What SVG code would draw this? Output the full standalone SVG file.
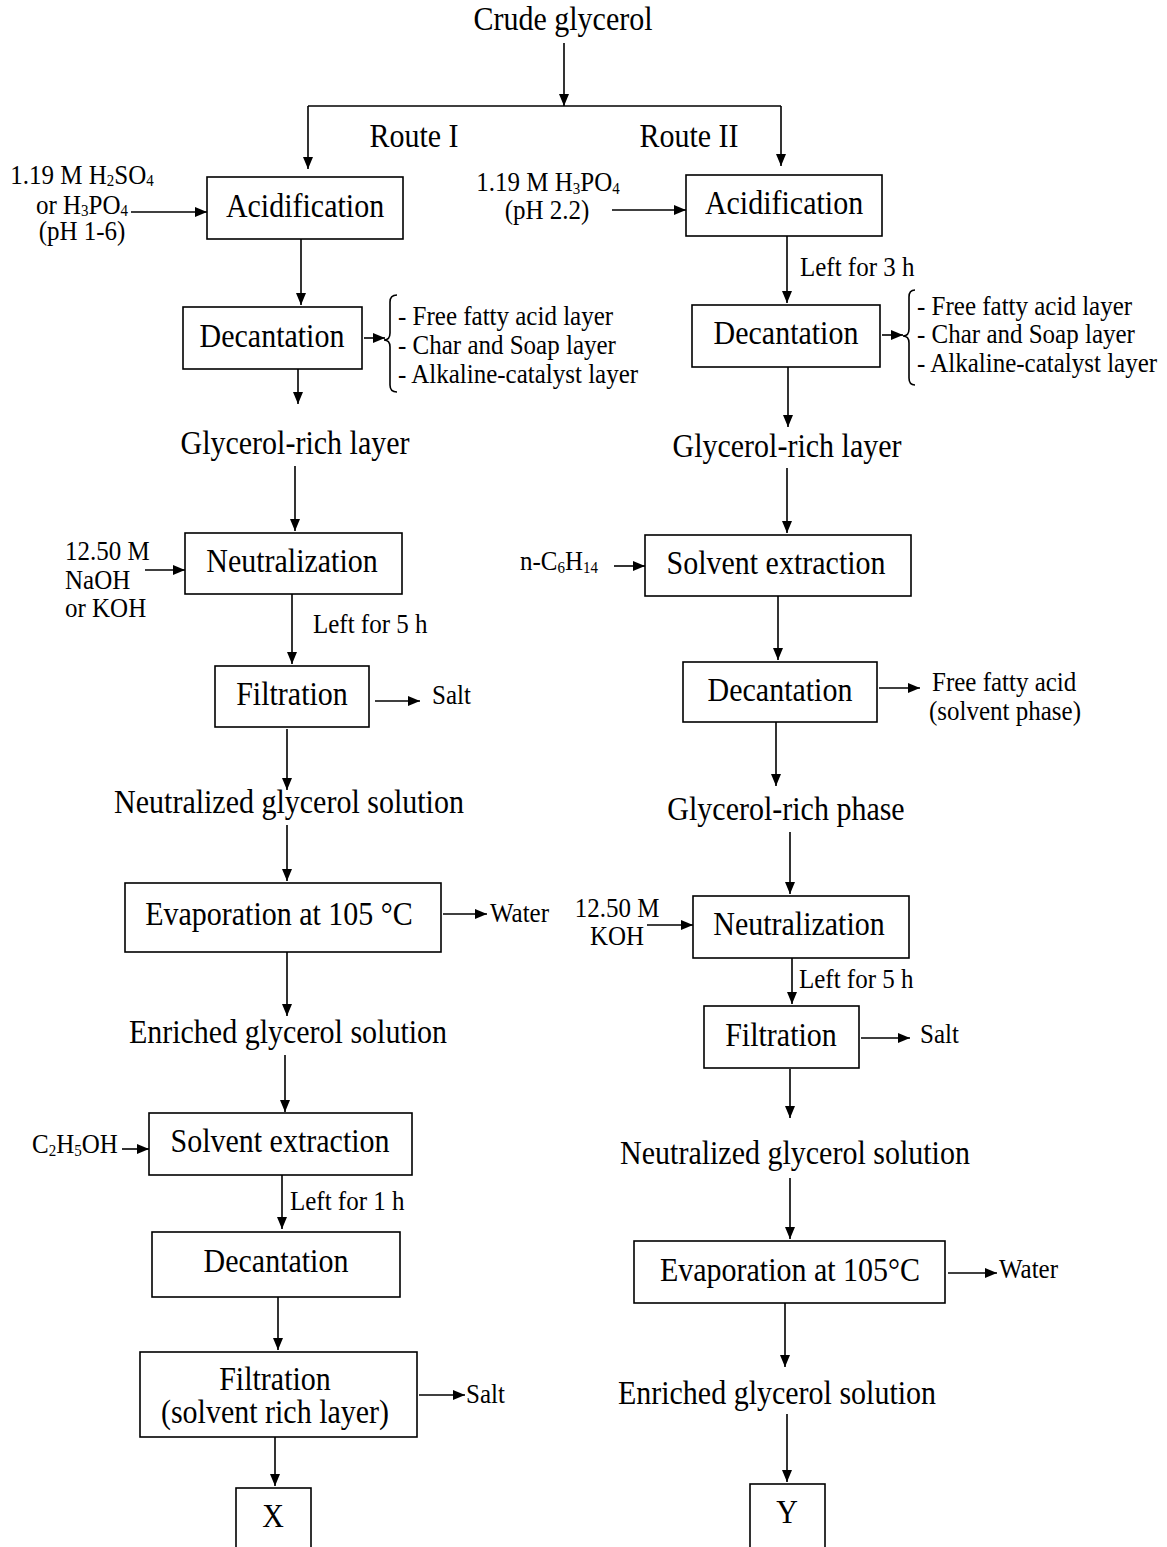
<svg xmlns="http://www.w3.org/2000/svg" width="1167" height="1547" viewBox="0 0 1167 1547">
  <style>
    text { font-family: "Liberation Serif", "Times New Roman", serif; fill: #000; }
    .big { font-size: 30px; }
    .small { font-size: 25px; }
    .mid { text-anchor: middle; }
    .box { fill: #fff; stroke: #000; stroke-width: 1.6; }
    .line { fill: none; stroke: #000; stroke-width: 1.6; }
    .sub { font-size: 15px; }
  </style>
  <defs>
    <marker id="arrow" viewBox="0 0 12 10" refX="12" refY="5" markerWidth="12" markerHeight="10" markerUnits="userSpaceOnUse" orient="auto">
      <path d="M0,0 L12,5 L0,10 z" fill="#000"/>
    </marker>
  </defs>
  <rect width="1167" height="1547" fill="#fff"/>

  <!-- connectors -->
  <g id="connectors" class="line">
    <path d="M564,43 V106" marker-end="url(#arrow)"/>
    <path d="M308,106 H781"/>
    <path d="M308,106 V169" marker-end="url(#arrow)"/>
    <path d="M781,106 V166" marker-end="url(#arrow)"/>
    <path d="M131,212 H207" marker-end="url(#arrow)"/>
    <path d="M612,210 H686" marker-end="url(#arrow)"/>
    <path d="M301,239 V305" marker-end="url(#arrow)"/>
    <path d="M787,236 V303" marker-end="url(#arrow)"/>
    <path d="M364,338 H385" marker-end="url(#arrow)"/>
    <path d="M882,335 H903" marker-end="url(#arrow)"/>
    <path d="M298,369 V404" marker-end="url(#arrow)"/>
    <path d="M788,367 V427" marker-end="url(#arrow)"/>
    <path d="M295,466 V531" marker-end="url(#arrow)"/>
    <path d="M787,468 V533" marker-end="url(#arrow)"/>
    <path d="M145,570 H185" marker-end="url(#arrow)"/>
    <path d="M614,566 H645" marker-end="url(#arrow)"/>
    <path d="M292,594 V664" marker-end="url(#arrow)"/>
    <path d="M778,596 V660" marker-end="url(#arrow)"/>
    <path d="M375,701 H420" marker-end="url(#arrow)"/>
    <path d="M879,688 H920" marker-end="url(#arrow)"/>
    <path d="M287,729 V790" marker-end="url(#arrow)"/>
    <path d="M776,722 V786" marker-end="url(#arrow)"/>
    <path d="M287,825 V881" marker-end="url(#arrow)"/>
    <path d="M790,832 V894" marker-end="url(#arrow)"/>
    <path d="M443,914 H487" marker-end="url(#arrow)"/>
    <path d="M647,925 H693" marker-end="url(#arrow)"/>
    <path d="M287,952 V1016" marker-end="url(#arrow)"/>
    <path d="M792,958 V1004" marker-end="url(#arrow)"/>
    <path d="M285,1055 V1112" marker-end="url(#arrow)"/>
    <path d="M861,1038 H910" marker-end="url(#arrow)"/>
    <path d="M122,1149 H149" marker-end="url(#arrow)"/>
    <path d="M790,1069 V1118" marker-end="url(#arrow)"/>
    <path d="M282,1175 V1229" marker-end="url(#arrow)"/>
    <path d="M790,1178 V1239" marker-end="url(#arrow)"/>
    <path d="M948,1273 H997" marker-end="url(#arrow)"/>
    <path d="M278,1297 V1350" marker-end="url(#arrow)"/>
    <path d="M785,1303 V1367" marker-end="url(#arrow)"/>
    <path d="M419,1395 H465" marker-end="url(#arrow)"/>
    <path d="M787,1414 V1482" marker-end="url(#arrow)"/>
    <path d="M275,1437 V1486" marker-end="url(#arrow)"/>
    <!-- braces -->
    <path d="M397,295 Q390,295 390,302 L390,333 Q390,340 384,340 Q390,340 390,347 L390,385 Q390,392 397,392"/>
    <path d="M915,290 Q909,290 909,297 L909,329 Q909,336 903,336 Q909,336 909,343 L909,378 Q909,385 915,385"/>
  </g>

  <!-- header -->
  <g id="crude-glycerol"><text class="big mid" transform="matrix(1 0 0 1.12 563 30)">Crude glycerol</text></g>
  <g id="route-labels">
    <text class="big mid" transform="matrix(1 0 0 1.12 414 147)">Route I</text>
    <text class="big mid" transform="matrix(1 0 0 1.12 689 147)">Route II</text>
  </g>

  <!-- Route I -->
  <g id="acid-feed-1">
    <text class="small mid" transform="matrix(1 0 0 1.05 82 184)">1.19 M H<tspan class="sub" dy="2">2</tspan><tspan dy="-2">SO</tspan><tspan class="sub" dy="2">4</tspan></text>
    <text class="small mid" transform="matrix(1 0 0 1.05 82 214)">or H<tspan class="sub" dy="2">3</tspan><tspan dy="-2">PO</tspan><tspan class="sub" dy="2">4</tspan></text>
    <text class="small mid" transform="matrix(1 0 0 1.05 82 240)">(pH 1-6)</text>
  </g>
  <g id="acidification-1">
    <rect class="box" x="207" y="177" width="196" height="62"/>
    <text class="big mid" transform="matrix(1 0 0 1.12 305 217)">Acidification</text>
  </g>
  <g id="decantation-1">
    <rect class="box" x="183" y="307" width="179" height="62"/>
    <text class="big mid" transform="matrix(1 0 0 1.12 272 347)">Decantation</text>
  </g>
  <g id="layers-1">
    <text class="small" transform="matrix(1 0 0 1.12 398 325)">- Free fatty acid layer</text>
    <text class="small" transform="matrix(1 0 0 1.12 398 354)">- Char and Soap layer</text>
    <text class="small" transform="matrix(1 0 0 1.12 398 383)">- Alkaline-catalyst layer</text>
  </g>
  <g id="glycerol-rich-1"><text class="big mid" transform="matrix(1 0 0 1.12 295 454)">Glycerol-rich layer</text></g>
  <g id="base-feed-1">
    <text class="small" transform="matrix(1 0 0 1.12 65 560)">12.50 M</text>
    <text class="small" transform="matrix(1 0 0 1.12 65 589)">NaOH</text>
    <text class="small" transform="matrix(1 0 0 1.12 65 617)">or KOH</text>
  </g>
  <g id="neutralization-1">
    <rect class="box" x="185" y="533" width="217" height="61"/>
    <text class="big mid" transform="matrix(1 0 0 1.12 292 572)">Neutralization</text>
  </g>
  <g id="wait-5h-1"><text class="small" transform="matrix(1 0 0 1.12 313 633)">Left for 5 h</text></g>
  <g id="filtration-1">
    <rect class="box" x="215" y="666" width="154" height="61"/>
    <text class="big mid" transform="matrix(1 0 0 1.12 292 705)">Filtration</text>
  </g>
  <g id="salt-1"><text class="small" transform="matrix(1 0 0 1.12 432 704)">Salt</text></g>
  <g id="neutralized-1"><text class="big mid" transform="matrix(1 0 0 1.12 289 813)">Neutralized glycerol solution</text></g>
  <g id="evaporation-1">
    <rect class="box" x="125" y="883" width="316" height="69"/>
    <text class="big mid" transform="matrix(1 0 0 1.12 279 925)">Evaporation at 105 °C</text>
  </g>
  <g id="water-1"><text class="small" transform="matrix(1 0 0 1.12 490 922)">Water</text></g>
  <g id="enriched-1"><text class="big mid" transform="matrix(1 0 0 1.12 288 1043)">Enriched glycerol solution</text></g>
  <g id="ethanol-feed"><text class="small" transform="matrix(1 0 0 1.12 32 1153)">C<tspan class="sub" dy="3">2</tspan><tspan dy="-3">H</tspan><tspan class="sub" dy="3">5</tspan><tspan dy="-3">OH</tspan></text></g>
  <g id="solvent-extraction-1">
    <rect class="box" x="149" y="1113" width="263" height="62"/>
    <text class="big mid" transform="matrix(1 0 0 1.12 280 1152)">Solvent extraction</text>
  </g>
  <g id="wait-1h"><text class="small" transform="matrix(1 0 0 1.12 290 1210)">Left for 1 h</text></g>
  <g id="decantation-3">
    <rect class="box" x="152" y="1232" width="248" height="65"/>
    <text class="big mid" transform="matrix(1 0 0 1.12 276 1272)">Decantation</text>
  </g>
  <g id="filtration-3">
    <rect class="box" x="140" y="1352" width="277" height="85"/>
    <text class="big mid" transform="matrix(1 0 0 1.12 275 1390)">Filtration</text>
    <text class="big mid" transform="matrix(1 0 0 1.12 275 1423)">(solvent rich layer)</text>
  </g>
  <g id="salt-3"><text class="small" transform="matrix(1 0 0 1.12 466 1403)">Salt</text></g>
  <g id="product-x">
    <rect class="box" x="236" y="1488" width="75" height="70"/>
    <text class="big mid" transform="matrix(1 0 0 1.12 273 1527)">X</text>
  </g>

  <!-- Route II -->
  <g id="acid-feed-2">
    <text class="small mid" transform="matrix(1 0 0 1.12 548 191)">1.19 M H<tspan class="sub" dy="3">3</tspan><tspan dy="-3">PO</tspan><tspan class="sub" dy="3">4</tspan></text>
    <text class="small mid" transform="matrix(1 0 0 1.12 547 219)">(pH 2.2)</text>
  </g>
  <g id="acidification-2">
    <rect class="box" x="686" y="175" width="196" height="61"/>
    <text class="big mid" transform="matrix(1 0 0 1.12 784 214)">Acidification</text>
  </g>
  <g id="wait-3h"><text class="small" transform="matrix(1 0 0 1.12 800 276)">Left for 3 h</text></g>
  <g id="decantation-2">
    <rect class="box" x="692" y="305" width="188" height="62"/>
    <text class="big mid" transform="matrix(1 0 0 1.12 786 344)">Decantation</text>
  </g>
  <g id="layers-2">
    <text class="small" transform="matrix(1 0 0 1.12 917 315)">- Free fatty acid layer</text>
    <text class="small" transform="matrix(1 0 0 1.12 917 343)">- Char and Soap layer</text>
    <text class="small" transform="matrix(1 0 0 1.12 917 372)">- Alkaline-catalyst layer</text>
  </g>
  <g id="glycerol-rich-2"><text class="big mid" transform="matrix(1 0 0 1.12 787 457)">Glycerol-rich layer</text></g>
  <g id="hexane-feed"><text class="small" transform="matrix(1 0 0 1.12 520 570)">n-C<tspan class="sub" dy="3">6</tspan><tspan dy="-3">H</tspan><tspan class="sub" dy="3">14</tspan></text></g>
  <g id="solvent-extraction-2">
    <rect class="box" x="645" y="535" width="266" height="61"/>
    <text class="big mid" transform="matrix(1 0 0 1.12 776 574)">Solvent extraction</text>
  </g>
  <g id="decantation-4">
    <rect class="box" x="683" y="662" width="194" height="60"/>
    <text class="big mid" transform="matrix(1 0 0 1.12 780 701)">Decantation</text>
  </g>
  <g id="ffa-out">
    <text class="small" transform="matrix(1 0 0 1.12 932 691)">Free fatty acid</text>
    <text class="small mid" transform="matrix(1 0 0 1.12 1005 720)">(solvent phase)</text>
  </g>
  <g id="glycerol-phase"><text class="big mid" transform="matrix(1 0 0 1.12 786 820)">Glycerol-rich phase</text></g>
  <g id="base-feed-2">
    <text class="small mid" transform="matrix(1 0 0 1.12 617 917)">12.50 M</text>
    <text class="small mid" transform="matrix(1 0 0 1.12 617 945)">KOH</text>
  </g>
  <g id="neutralization-2">
    <rect class="box" x="693" y="896" width="216" height="62"/>
    <text class="big mid" transform="matrix(1 0 0 1.12 799 935)">Neutralization</text>
  </g>
  <g id="wait-5h-2"><text class="small" transform="matrix(1 0 0 1.12 799 988)">Left for 5 h</text></g>
  <g id="filtration-2">
    <rect class="box" x="704" y="1006" width="155" height="62"/>
    <text class="big mid" transform="matrix(1 0 0 1.12 781 1046)">Filtration</text>
  </g>
  <g id="salt-2"><text class="small" transform="matrix(1 0 0 1.12 920 1043)">Salt</text></g>
  <g id="neutralized-2"><text class="big mid" transform="matrix(1 0 0 1.12 795 1164)">Neutralized glycerol solution</text></g>
  <g id="evaporation-2">
    <rect class="box" x="634" y="1241" width="311" height="62"/>
    <text class="big mid" transform="matrix(1 0 0 1.12 790 1281)">Evaporation at 105°C</text>
  </g>
  <g id="water-2"><text class="small" transform="matrix(1 0 0 1.12 999 1278)">Water</text></g>
  <g id="enriched-2"><text class="big mid" transform="matrix(1 0 0 1.12 777 1404)">Enriched glycerol solution</text></g>
  <g id="product-y">
    <rect class="box" x="750" y="1484" width="75" height="75"/>
    <text class="big mid" transform="matrix(1 0 0 1.12 787 1523)">Y</text>
  </g>
</svg>
